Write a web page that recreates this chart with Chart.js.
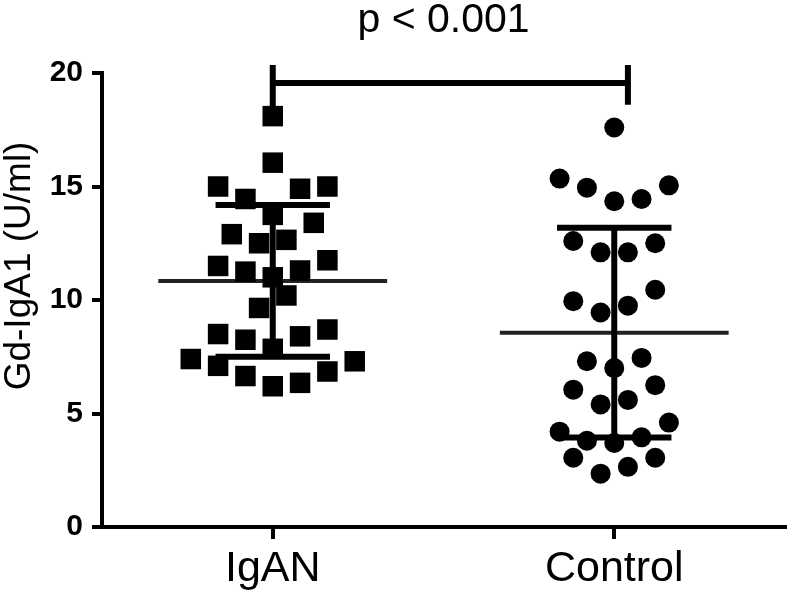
<!DOCTYPE html>
<html>
<head>
<meta charset="utf-8">
<script src="https://cdn.jsdelivr.net/npm/chart.js@4/dist/chart.umd.min.js"></script>
<style>
  html, body { margin: 0; padding: 0; background: #fff; }
  #wrap { width: 787px; height: 601px; }
</style>
</head>
<body>
<div id="wrap"><canvas id="chart" width="787" height="601"></canvas></div>
<script>
// ---- data ----
const groupLabels = ["IgAN", "Control"];
const groupPos = [1, 3];

const iganValues = [18.1, 16.05, 15.0, 14.45, 14.9, 15.0, 13.75, 13.4, 12.9, 12.5,
                    12.65, 11.5, 11.25, 11.0, 11.3, 11.75, 10.2, 9.65, 8.5, 8.25,
                    8.4, 8.7, 7.85, 7.4, 7.1, 7.3, 6.65, 6.85, 6.35, 6.2];
const iganCols   = [0, 0, -4, -2, 2, 4, 0, 3, -3, -1,
                    1, -4, -2, 0, 2, 4, 1, -1, -4, -2,
                    2, 4, 0, -6, -4, 6, -2, 4, 2, 0];

const controlValues = [17.6, 15.35, 14.95, 14.35, 14.45, 15.05, 12.6, 12.1, 12.1, 12.5,
                       9.95, 9.45, 9.75, 10.45, 7.3, 7.0, 7.45, 6.05, 5.4, 5.6,
                       6.25, 4.2, 3.8, 3.7, 3.95, 4.6, 3.05, 2.35, 2.65, 3.05];
const controlCols   = [0, -4, -2, 0, 2, 4, -3, -1, 1, 3,
                       -3, -1, 1, 3, -2, 0, 2, -3, -1, 1,
                       3, -4, -2, 0, 2, 4, -3, -1, 1, 3];

const groupMeans = [10.84, 8.56];
const groupSds = [3.34, 4.62];

const yTicks = [0, 5, 10, 15, 20];
const pLabel = "p < 0.001";
const yTitle = "Gd-IgA1 (U/ml)";

// ---- style ----
const FONT = "'Liberation Sans', Arial, sans-serif";
const jitter = 0.08;
const meanHalf = 0.67;
const capHalf = 0.335;

function toPoints(values, cols, pos){
  return values.map((v, i) => ({x: pos + cols[i] * jitter, y: v}));
}

const annotations = {
  id: 'annotations',
  beforeDatasetsDraw(chart){
    const {ctx, scales: {x, y}} = chart;
    ctx.save();
    ctx.lineCap = 'butt';
    groupPos.forEach((pos, i) => {
      const m = groupMeans[i], s = groupSds[i];
      // mean
      ctx.strokeStyle = '#222';
      ctx.lineWidth = 4;
      ctx.beginPath();
      ctx.moveTo(x.getPixelForValue(pos - meanHalf), y.getPixelForValue(m));
      ctx.lineTo(x.getPixelForValue(pos + meanHalf), y.getPixelForValue(m));
      ctx.stroke();
      // sd
      ctx.strokeStyle = '#000';
      ctx.lineWidth = 6;
      ctx.beginPath();
      ctx.moveTo(x.getPixelForValue(pos), y.getPixelForValue(m - s));
      ctx.lineTo(x.getPixelForValue(pos), y.getPixelForValue(m + s));
      [m - s, m + s].forEach(v => {
        ctx.moveTo(x.getPixelForValue(pos - capHalf), y.getPixelForValue(v));
        ctx.lineTo(x.getPixelForValue(pos + capHalf), y.getPixelForValue(v));
      });
      ctx.stroke();
    });
    ctx.restore();
  },
  afterDraw(chart){
    const {ctx, chartArea, scales: {x, y}} = chart;
    ctx.save();
    // significance bracket
    const x1 = x.getPixelForValue(groupPos[0]);
    const x2 = x.getPixelForValue(3.08);
    const by = y.getPixelForValue(19.56);
    ctx.strokeStyle = '#000';
    ctx.lineWidth = 6;
    ctx.beginPath();
    ctx.moveTo(x1, by); ctx.lineTo(x2, by);
    ctx.moveTo(x1, y.getPixelForValue(20.35)); ctx.lineTo(x1, y.getPixelForValue(18.3));
    ctx.moveTo(x2, y.getPixelForValue(20.35)); ctx.lineTo(x2, y.getPixelForValue(18.6));
    ctx.stroke();

    ctx.fillStyle = '#000';
    ctx.font = "41px " + FONT;
    ctx.textAlign = 'center';
    ctx.textBaseline = 'middle';
    ctx.fillText(pLabel, x.getPixelForValue(2.0), y.getPixelForValue(22.3));

    // y axis title
    ctx.translate(chartArea.left - 82, y.getPixelForValue(11.5));
    ctx.rotate(-Math.PI / 2);
    ctx.font = "37px " + FONT;
    ctx.fillText(yTitle, 0, 0);
    ctx.restore();
  }
};

new Chart(document.getElementById("chart").getContext("2d"), {
  type: "scatter",
  data: {
    datasets: [
      {
        label: groupLabels[0],
        data: toPoints(iganValues, iganCols, groupPos[0]),
        pointStyle: 'rect',
        pointRadius: 14.5,
        backgroundColor: '#000',
        borderColor: '#000',
        borderWidth: 0
      },
      {
        label: groupLabels[1],
        data: toPoints(controlValues, controlCols, groupPos[1]),
        pointStyle: 'circle',
        pointRadius: 10,
        backgroundColor: '#000',
        borderColor: '#000',
        borderWidth: 0
      }
    ]
  },
  options: {
    responsive: false,
    animation: false,
    clip: false,
    layout: { autoPadding: false, padding: { top: 73, right: 2, left: 0, bottom: 0 } },
    plugins: {
      legend: { display: false },
      tooltip: { enabled: false }
    },
    scales: {
      x: {
        type: 'linear',
        min: 0,
        max: 4,
        afterBuildTicks: axis => { axis.ticks = groupPos.map(v => ({value: v})); },
        afterFit: scale => { scale.height = 74; scale.paddingLeft = 0; scale.paddingRight = 0; },
        border: { display: true, color: '#000', width: 4 },
        grid: { drawOnChartArea: false, drawTicks: true, tickLength: 12, lineWidth: 4, color: '#000' },
        ticks: {
          color: '#000',
          font: { family: FONT, size: 43 },
          padding: 4,
          maxRotation: 0,
          callback: v => groupLabels[groupPos.indexOf(v)] || ''
        }
      },
      y: {
        min: 0,
        max: 20,
        afterBuildTicks: axis => { axis.ticks = yTicks.map(v => ({value: v})); },
        afterFit: scale => { scale.width = 102; scale.paddingTop = 0; scale.paddingBottom = 0; },
        border: { display: true, color: '#000', width: 4 },
        grid: { drawOnChartArea: false, drawTicks: true, tickLength: 10, lineWidth: 4, color: '#000' },
        ticks: {
          color: '#000',
          font: { family: FONT, size: 30, weight: 'bold' },
          padding: 9
        }
      }
    }
  },
  plugins: [annotations]
});
</script>
</body>
</html>
